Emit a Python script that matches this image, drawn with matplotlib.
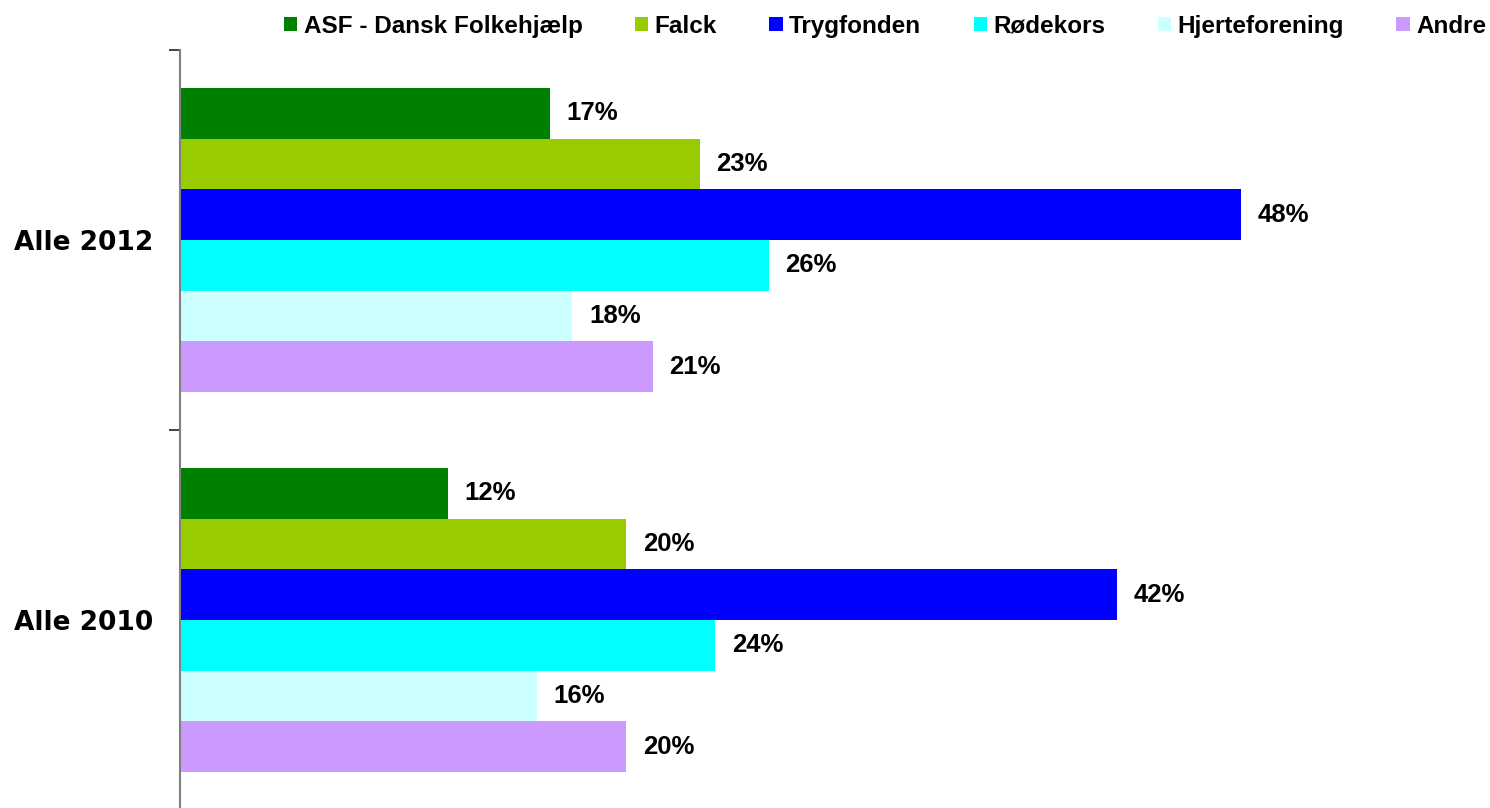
import matplotlib.pyplot as plt
from matplotlib.patches import Patch

# Values (percent)
categories = ["Alle 2010", "Alle 2012"]
series = ["ASF - Dansk Folkehjælp", "Falck", "Trygfonden", "Rødekors", "Hjerteforening", "Andre"]
colors = ["#008000", "#99CC00", "#0000FF", "#00FFFF", "#CCFFFF", "#CC99FF"]
values_2010 = [12.0, 20.0, 42.0, 24.0, 16.0, 20.0]
values_2012 = [16.6, 23.3, 47.6, 26.4, 17.6, 21.2]
labels_2010 = ["12%", "20%", "42%", "24%", "16%", "20%"]
labels_2012 = ["17%", "23%", "48%", "26%", "18%", "21%"]

data = [values_2010, values_2012]
labels = [labels_2010, labels_2012]

fig = plt.figure(figsize=(14.9, 8.08), dpi=100)
ax = fig.add_axes([180 / 1490, -2 / 808, 1300 / 1490, 760 / 808])

n = len(series)
h = 0.8 / n
for c in range(len(categories)):
    for i in range(n):
        y = c + 0.4 - (i + 0.5) * h
        ax.barh(y, data[c][i], height=h, color=colors[i], edgecolor="none")
        ax.annotate(labels[c][i], (data[c][i], y), xytext=(12, 0), textcoords="offset points",
                    va="center", ha="left", fontsize=18.5, fontweight="bold",
                    family="Liberation Sans")

ax.set_xlim(0, 58.3)
ax.set_ylim(-0.5, 1.5)

ax.set_yticks([-0.5, 0.5, 1.5])
ax.set_yticklabels([])
ax.set_yticks([0, 1], minor=True)
ax.set_yticklabels(categories, minor=True, fontsize=19, fontweight="bold", family="DejaVu Sans")
ax.tick_params(axis="y", which="major", length=8, width=1.2, color="#222222", direction="out")
ax.tick_params(axis="y", which="minor", length=0, pad=19)
ax.set_xticks([])

for s in ["top", "right", "bottom"]:
    ax.spines[s].set_visible(False)
ax.spines["left"].set_color("#808080")
ax.spines["left"].set_linewidth(1.5)

handles = [Patch(facecolor=col, edgecolor="none") for col in colors]
fig.legend(handles, series, loc="upper right", bbox_to_anchor=(1501 / 1490, 1.0), ncol=6,
           frameon=False, handlelength=0.55, handleheight=0.55, handletextpad=0.27,
           columnspacing=2.15, borderaxespad=0.2,
           prop={"family": "Liberation Sans", "weight": "bold", "size": 17.5})

fig.savefig("out.png", dpi=100)
